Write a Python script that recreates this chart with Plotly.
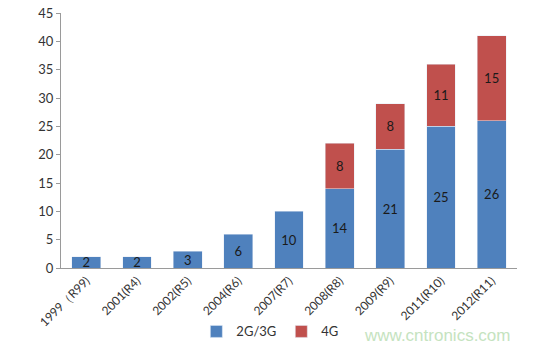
import plotly.graph_objects as go

categories = ["1999（R99)", "2001(R4)", "2002(R5)", "2004(R6)", "2007(R7)",
              "2008(R8)", "2009(R9)", "2011(R10)", "2012(R11)"]
g23 = [2, 2, 3, 6, 10, 14, 21, 25, 26]
g4 = [None, None, None, None, None, 8, 8, 11, 15]
y_ticks = [0, 5, 10, 15, 20, 25, 30, 35, 40, 45]

FONT = "Lato, 'Open Sans', sans-serif"

fig = go.Figure()
fig.add_trace(go.Bar(x=categories, y=g23, name="2G/3G", marker_color="#4F81BD",
                     text=g23, textposition="inside", insidetextanchor="middle",
                     textangle=0, constraintext="none", cliponaxis=False,
                     textfont=dict(color="#1a1a1a", size=13, family=FONT)))
fig.add_trace(go.Bar(x=categories, y=g4, name="4G", marker_color="#C0504D",
                     text=[v if v is not None else "" for v in g4], textposition="inside",
                     insidetextanchor="middle", textangle=0, constraintext="none",
                     textfont=dict(color="#1a1a1a", size=13, family=FONT)))

fig.update_layout(
    barmode="stack", bargap=0.43,
    width=535, height=347,
    margin=dict(l=61, r=18, t=13, b=79, autoexpand=False),
    paper_bgcolor="white", plot_bgcolor="white",
    font=dict(family=FONT, size=12, color="#333"),
    showlegend=True,
    legend=dict(orientation="h", traceorder="normal", x=0.458, xanchor="center",
                y=-0.19, yanchor="top", font=dict(size=13), itemwidth=30,
                tracegroupgap=0, entrywidth=0),
    uniformtext=dict(mode="show", minsize=8),
)
fig.update_xaxes(showline=True, linecolor="#9a9a9a", linewidth=1, tickangle=-45,
                 ticks="", showgrid=False, tickfont=dict(size=12), automargin=False)
fig.update_yaxes(range=[0, 45], tickvals=y_ticks, showline=True, linecolor="#9a9a9a",
                 linewidth=1, ticks="outside", ticklen=4, tickcolor="#9a9a9a",
                 showgrid=False, zeroline=False, tickfont=dict(size=13), automargin=False)

fig.add_annotation(text="www.cntronics.com", xref="paper", yref="paper",
                   x=0.99, y=-0.22, xanchor="right", yanchor="top", showarrow=False,
                   font=dict(size=17, color="#c5e3c0", family="Arial, sans-serif"))

fig.write_html("out.html")
